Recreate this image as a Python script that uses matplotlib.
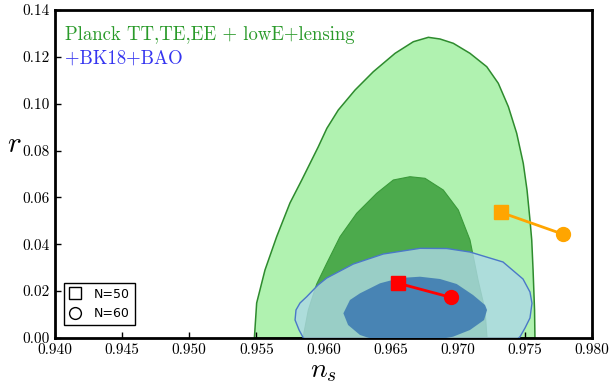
"""ns-r plane: Planck + BK18 + BAO contours with N=50/60 predictions."""
import matplotlib
matplotlib.use("Agg")
import matplotlib.pyplot as plt
from matplotlib.lines import Line2D
from matplotlib.ticker import FormatStrFormatter, MultipleLocator

plt.rcParams["font.family"] = "cmr10"
plt.rcParams["mathtext.fontset"] = "cm"
plt.rcParams["axes.unicode_minus"] = False
plt.rcParams["axes.formatter.use_mathtext"] = True

# Planck TT,TE,EE + lowE + lensing -- 95% boundary
planck95_ns = [0.95485, 0.95502, 0.95564, 0.95651, 0.95750, 0.95838, 0.95912,
               0.95960, 0.96025, 0.96110, 0.96235, 0.96371, 0.96533, 0.96669,
               0.96781, 0.96868, 0.96967, 0.97091, 0.97216, 0.97302, 0.97377,
               0.97439, 0.97488, 0.97516, 0.97538, 0.97551, 0.97561, 0.97572,
               0.97575]
planck95_r = [0.0, 0.01494, 0.02902, 0.04324, 0.05762, 0.06744, 0.07597,
              0.08150, 0.08950, 0.09731, 0.10585, 0.11366, 0.12151, 0.12646,
              0.12834, 0.12762, 0.12578, 0.12151, 0.11579, 0.10871, 0.09872,
              0.08737, 0.07456, 0.06317, 0.05036, 0.04183, 0.02902, 0.01195,
              0.0]

# Planck -- 68% boundary
planck68_ns = [0.95847, 0.95887, 0.95949, 0.96024, 0.96123, 0.96247, 0.96396,
               0.96520, 0.96644, 0.96756, 0.96892, 0.97004, 0.97091, 0.97151,
               0.97203, 0.97218]
planck68_r = [0.0, 0.01195, 0.02300, 0.03188, 0.04324, 0.05322, 0.06176,
              0.06744, 0.06884, 0.06816, 0.06317, 0.05463, 0.04183, 0.02475,
              0.01195, 0.0]

# + BK18 + BAO -- 95% boundary
bk95_ns = [0.95850, 0.95818, 0.95788, 0.95795, 0.95825, 0.95875, 0.95959,
           0.96024, 0.96222, 0.96445, 0.96719, 0.96918, 0.97091, 0.97337,
           0.97486, 0.97538, 0.97553, 0.97538, 0.97501, 0.97464, 0.97404,
           0.97017, 0.96421, 0.95937]
bk95_r = [0.0, 0.00341, 0.00768, 0.01195, 0.01494, 0.01763, 0.02262,
          0.02561, 0.03158, 0.03585, 0.03828, 0.03820, 0.03670, 0.03244,
          0.02518, 0.01963, 0.01481, 0.00854, 0.00427, 0.00055, -0.00256,
          -0.00512, -0.00555, -0.00299]

# + BK18 + BAO -- 68% boundary
bk68_ns = [0.96148, 0.96197, 0.96272, 0.96421, 0.96570, 0.96719, 0.96868,
           0.96992, 0.97114, 0.97203, 0.97218, 0.97196, 0.97091, 0.96965,
           0.96793, 0.96570, 0.96384, 0.96272, 0.96183]
bk68_r = [0.01054, 0.01622, 0.01908, 0.02335, 0.02561, 0.02616, 0.02518,
          0.02305, 0.01835, 0.01408, 0.01195, 0.00768, 0.00341, 0.00055,
          -0.00128, -0.00171, -0.00085, 0.00128, 0.00555]

# model predictions (N=50, N=60)
red_ns = [0.96557, 0.96947]
red_r = [0.02335, 0.01737]
orange_ns = [0.97320, 0.97786]
orange_r = [0.05365, 0.04426]

fig = plt.figure(figsize=(6.1, 3.83), dpi=100)
ax = fig.add_axes([0.0902, 0.1175, 0.8803, 0.8564])

ax.fill(planck95_ns, planck95_r, facecolor="#b0f2b0", edgecolor="#2e8b2e", lw=1.1, zorder=1)
ax.fill(planck68_ns, planck68_r, facecolor="#4caa4c", edgecolor="#3a9a3a", lw=0.8, zorder=2)
ax.fill(bk95_ns, bk95_r, facecolor="#add8e6", alpha=0.8, edgecolor="none", zorder=3)
ax.fill(bk95_ns, bk95_r, facecolor="none", edgecolor="#4a78c8", lw=1.0, zorder=3)
ax.fill(bk68_ns, bk68_r, facecolor="#4682b4", alpha=0.97, edgecolor="none", zorder=4)

for ns, r, c in [(red_ns, red_r, "red"), (orange_ns, orange_r, "orange")]:
    ax.plot(ns, r, color=c, lw=2.0, zorder=5)
    ax.plot(ns[0], r[0], "s", color=c, ms=10, zorder=6)
    ax.plot(ns[1], r[1], "o", color=c, ms=10, zorder=6)

ax.text(0.019, 0.924, "Planck TT,TE,EE + lowE+lensing", color="#2a9a2a",
        fontsize=13.5, transform=ax.transAxes, va="center")
ax.text(0.019, 0.853, "+BK18+BAO", color="#3535f0",
        fontsize=13.5, transform=ax.transAxes, va="center")

ax.set_xlim(0.940, 0.980)
ax.set_ylim(0.0, 0.14)
ax.xaxis.set_major_locator(MultipleLocator(0.005))
ax.yaxis.set_major_locator(MultipleLocator(0.02))
ax.xaxis.set_major_formatter(FormatStrFormatter("%.3f"))
ax.yaxis.set_major_formatter(FormatStrFormatter("%.2f"))
ax.tick_params(direction="in", length=4, width=1, labelsize=11, pad=4,
               top=False, right=False)
for sp in ax.spines.values():
    sp.set_linewidth(2.0)

ax.set_xlabel("$n_s$", fontsize=20, labelpad=0)
ax.set_ylabel("$r$", fontsize=21, rotation=0, labelpad=4)
ax.yaxis.set_label_coords(-0.075, 0.55)

handles = [
    Line2D([], [], ls="none", marker="s", mfc="none", mec="black", ms=8.5, label="N=50"),
    Line2D([], [], ls="none", marker="o", mfc="none", mec="black", ms=8.5, label="N=60"),
]
leg = ax.legend(handles=handles, loc="lower left", bbox_to_anchor=(0.017, 0.04),
                borderaxespad=0, fancybox=False, framealpha=1, edgecolor="black",
                prop={"family": "DejaVu Sans", "size": 9}, handlelength=1.0,
                handletextpad=1.0, labelspacing=0.5)
leg.get_frame().set_linewidth(1.0)

fig.savefig("out.png", dpi=100)
